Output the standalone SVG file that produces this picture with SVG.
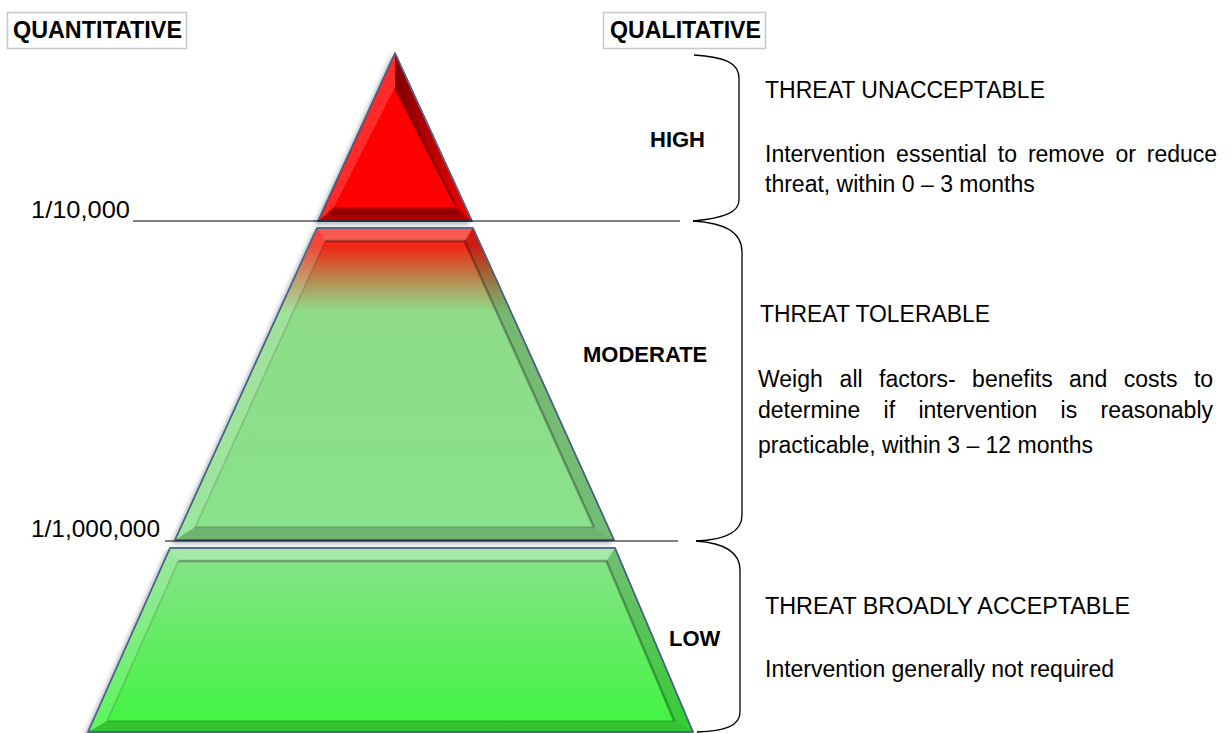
<svg xmlns="http://www.w3.org/2000/svg" width="1231" height="733" viewBox="0 0 1231 733">
<style>
text{font-family:"Liberation Sans",Arial,sans-serif;fill:#000}
.hdr{font-size:23.5px;font-weight:bold}
.lvl{font-size:22px;font-weight:bold}
.q{font-size:24px}
.t{font-size:23px}
.box{fill:#fff;stroke:#c8c8c8;stroke-width:1.5}
.outline{stroke:#4a6585;stroke-width:1.5;stroke-linejoin:round}
.hi{fill:#fff;fill-opacity:0.16}
.hi2{fill:#fff;fill-opacity:0.26}
.sh{fill:#000;fill-opacity:0.16}
.sh2{fill:#000;fill-opacity:0.2}
.edge{fill:none;stroke:#000;stroke-opacity:0.3;stroke-width:2.5}
.edgel{fill:none;stroke:#000;stroke-opacity:0.12;stroke-width:2}
.rule{stroke:#000;stroke-width:1.2}
.brace{fill:none;stroke:#000;stroke-width:1.3}
</style>
<defs>
<filter id="ds" x="-20%" y="-20%" width="140%" height="140%">
<feDropShadow dx="-3" dy="3" stdDeviation="2" flood-color="#506070" flood-opacity="0.45"/>
</filter>
<linearGradient id="gMid" x1="0" y1="228" x2="0" y2="540" gradientUnits="userSpaceOnUse">
<stop offset="0" stop-color="#ff1a10"/>
<stop offset="0.06" stop-color="#f02818"/>
<stop offset="0.13" stop-color="#c86a3a"/>
<stop offset="0.2" stop-color="#a9a866"/>
<stop offset="0.27" stop-color="#8edc8a"/>
<stop offset="1" stop-color="#8ae28c"/>
</linearGradient>
<linearGradient id="gLow" x1="0" y1="548" x2="0" y2="732" gradientUnits="userSpaceOnUse">
<stop offset="0" stop-color="#8ae28c"/>
<stop offset="1" stop-color="#3ef53e"/>
</linearGradient>
<linearGradient id="gRedR" x1="0" y1="0" x2="1" y2="0">
<stop offset="0" stop-color="#000" stop-opacity="0.5"/>
<stop offset="1" stop-color="#000" stop-opacity="0.05"/>
</linearGradient>
</defs>

<g id="header-quantitative">
<rect class="box" x="7.5" y="12.5" width="179" height="36"/>
<text class="hdr" x="13" y="38" textLength="169" lengthAdjust="spacingAndGlyphs">QUANTITATIVE</text>
</g>
<g id="header-qualitative">
<rect class="box" x="603.5" y="12.5" width="162" height="36"/>
<text class="hdr" x="610" y="38" textLength="151" lengthAdjust="spacingAndGlyphs">QUALITATIVE</text>
</g>

<g id="level-high">
<polygon class="outline" points="395,53 318,221 472,221" fill="#ff0000" filter="url(#ds)"/>
<polygon points="395,55 320,220 334,207 395,87" fill="#ff2a2a"/>
<polygon points="395,55 470,220 456,207 395,87" fill="url(#gRedR)"/>
<polygon points="320,220 470,220 456,207 334,207" fill="#b00000"/>
<polygon points="333,210 457,210 462,215 328,215" fill="#800000" fill-opacity="0.6"/>
<polyline class="edge" points="395,88 456,206"/>
<polygon class="outline" points="395,53 318,221 472,221" fill="none"/>
<text class="lvl" x="650" y="147">HIGH</text>
</g>

<g id="level-moderate">
<polygon class="outline" points="317,228 473,228 614,540 175,540" fill="url(#gMid)" filter="url(#ds)"/>
<polygon class="hi2" points="317,228 473,228 464.6,241 325.4,241"/>
<polygon class="hi" points="317,228 325.4,241 195.3,527 175,540"/>
<polygon class="sh" points="473,228 614,540 593.8,527 464.6,241"/>
<polygon class="sh2" points="175,540 614,540 593.8,527 195.3,527"/>
<polyline class="edge" points="325.4,241 464.6,241 593.8,527"/>
<polyline class="edgel" points="325.4,241 195.3,527 593.8,527"/>
<polygon class="outline" points="317,228 473,228 614,540 175,540" fill="none"/>
<text class="lvl" x="583" y="362">MODERATE</text>
</g>

<g id="level-low">
<polygon class="outline" points="170,548 615,548 693,732 88,732" fill="url(#gLow)" filter="url(#ds)"/>
<polygon class="hi2" points="170,548 615,548 606.4,561 178.4,561"/>
<polygon class="hi" points="170,548 178.4,561 107,721 88,732"/>
<polygon class="sh" points="615,548 693,732 674.3,721 606.4,561"/>
<polygon class="sh2" points="88,732 693,732 674.3,721 107,721"/>
<polyline class="edge" points="178.4,561 606.4,561 674.3,721"/>
<polyline class="edgel" points="178.4,561 107,721 674.3,721"/>
<polygon class="outline" points="170,548 615,548 693,732 88,732" fill="none"/>
<text class="lvl" x="669" y="646">LOW</text>
</g>

<g id="connectors">
<line class="rule" x1="133" y1="221" x2="680" y2="221"/>
<line class="rule" x1="165" y1="541" x2="678" y2="541"/>
<path class="brace" d="M694 55 C725 57 739 63 739 78 L739 200 C739 212 725 218 693 221"/>
<path class="brace" d="M693 221 C725 223 742 232 742 252 L742 515 C742 532 725 540 696 541"/>
<path class="brace" d="M696 541 C725 543 740 552 740 570 L740 712 C740 726 725 731 697 732"/>
</g>

<g id="quantitative-labels">
<text class="q" x="31" y="218" textLength="99" lengthAdjust="spacingAndGlyphs">1/10,000</text>
<text class="q" x="31" y="537" textLength="129" lengthAdjust="spacingAndGlyphs">1/1,000,000</text>
</g>

<g id="desc-high">
<text class="t" x="765" y="98" textLength="280" lengthAdjust="spacingAndGlyphs">THREAT UNACCEPTABLE</text>
<text class="t" x="765" y="162">Intervention</text>
<text class="t" x="896.1" y="162">essential</text>
<text class="t" x="997.8" y="162">to</text>
<text class="t" x="1027.9" y="162">remove</text>
<text class="t" x="1115.5" y="162">or</text>
<text class="t" x="1146.8" y="162">reduce</text>
<text class="t" x="765" y="192">threat, within 0 – 3 months</text>
</g>

<g id="desc-moderate">
<text class="t" x="760" y="322" textLength="230" lengthAdjust="spacingAndGlyphs">THREAT TOLERABLE</text>
<text class="t" x="758" y="387">Weigh</text>
<text class="t" x="839.6" y="387">all</text>
<text class="t" x="879" y="387">factors-</text>
<text class="t" x="972.1" y="387">benefits</text>
<text class="t" x="1069" y="387">and</text>
<text class="t" x="1123.8" y="387">costs</text>
<text class="t" x="1193.9" y="387">to</text>
<text class="t" x="758" y="418">determine</text>
<text class="t" x="883.6" y="418">if</text>
<text class="t" x="918.4" y="418">intervention</text>
<text class="t" x="1060.6" y="418">is</text>
<text class="t" x="1100.5" y="418">reasonably</text>
<text class="t" x="758" y="453">practicable, within 3 – 12 months</text>
</g>

<g id="desc-low">
<text class="t" x="765" y="614" textLength="365" lengthAdjust="spacingAndGlyphs">THREAT BROADLY ACCEPTABLE</text>
<text class="t" x="765" y="677">Intervention generally not required</text>
</g>
</svg>
